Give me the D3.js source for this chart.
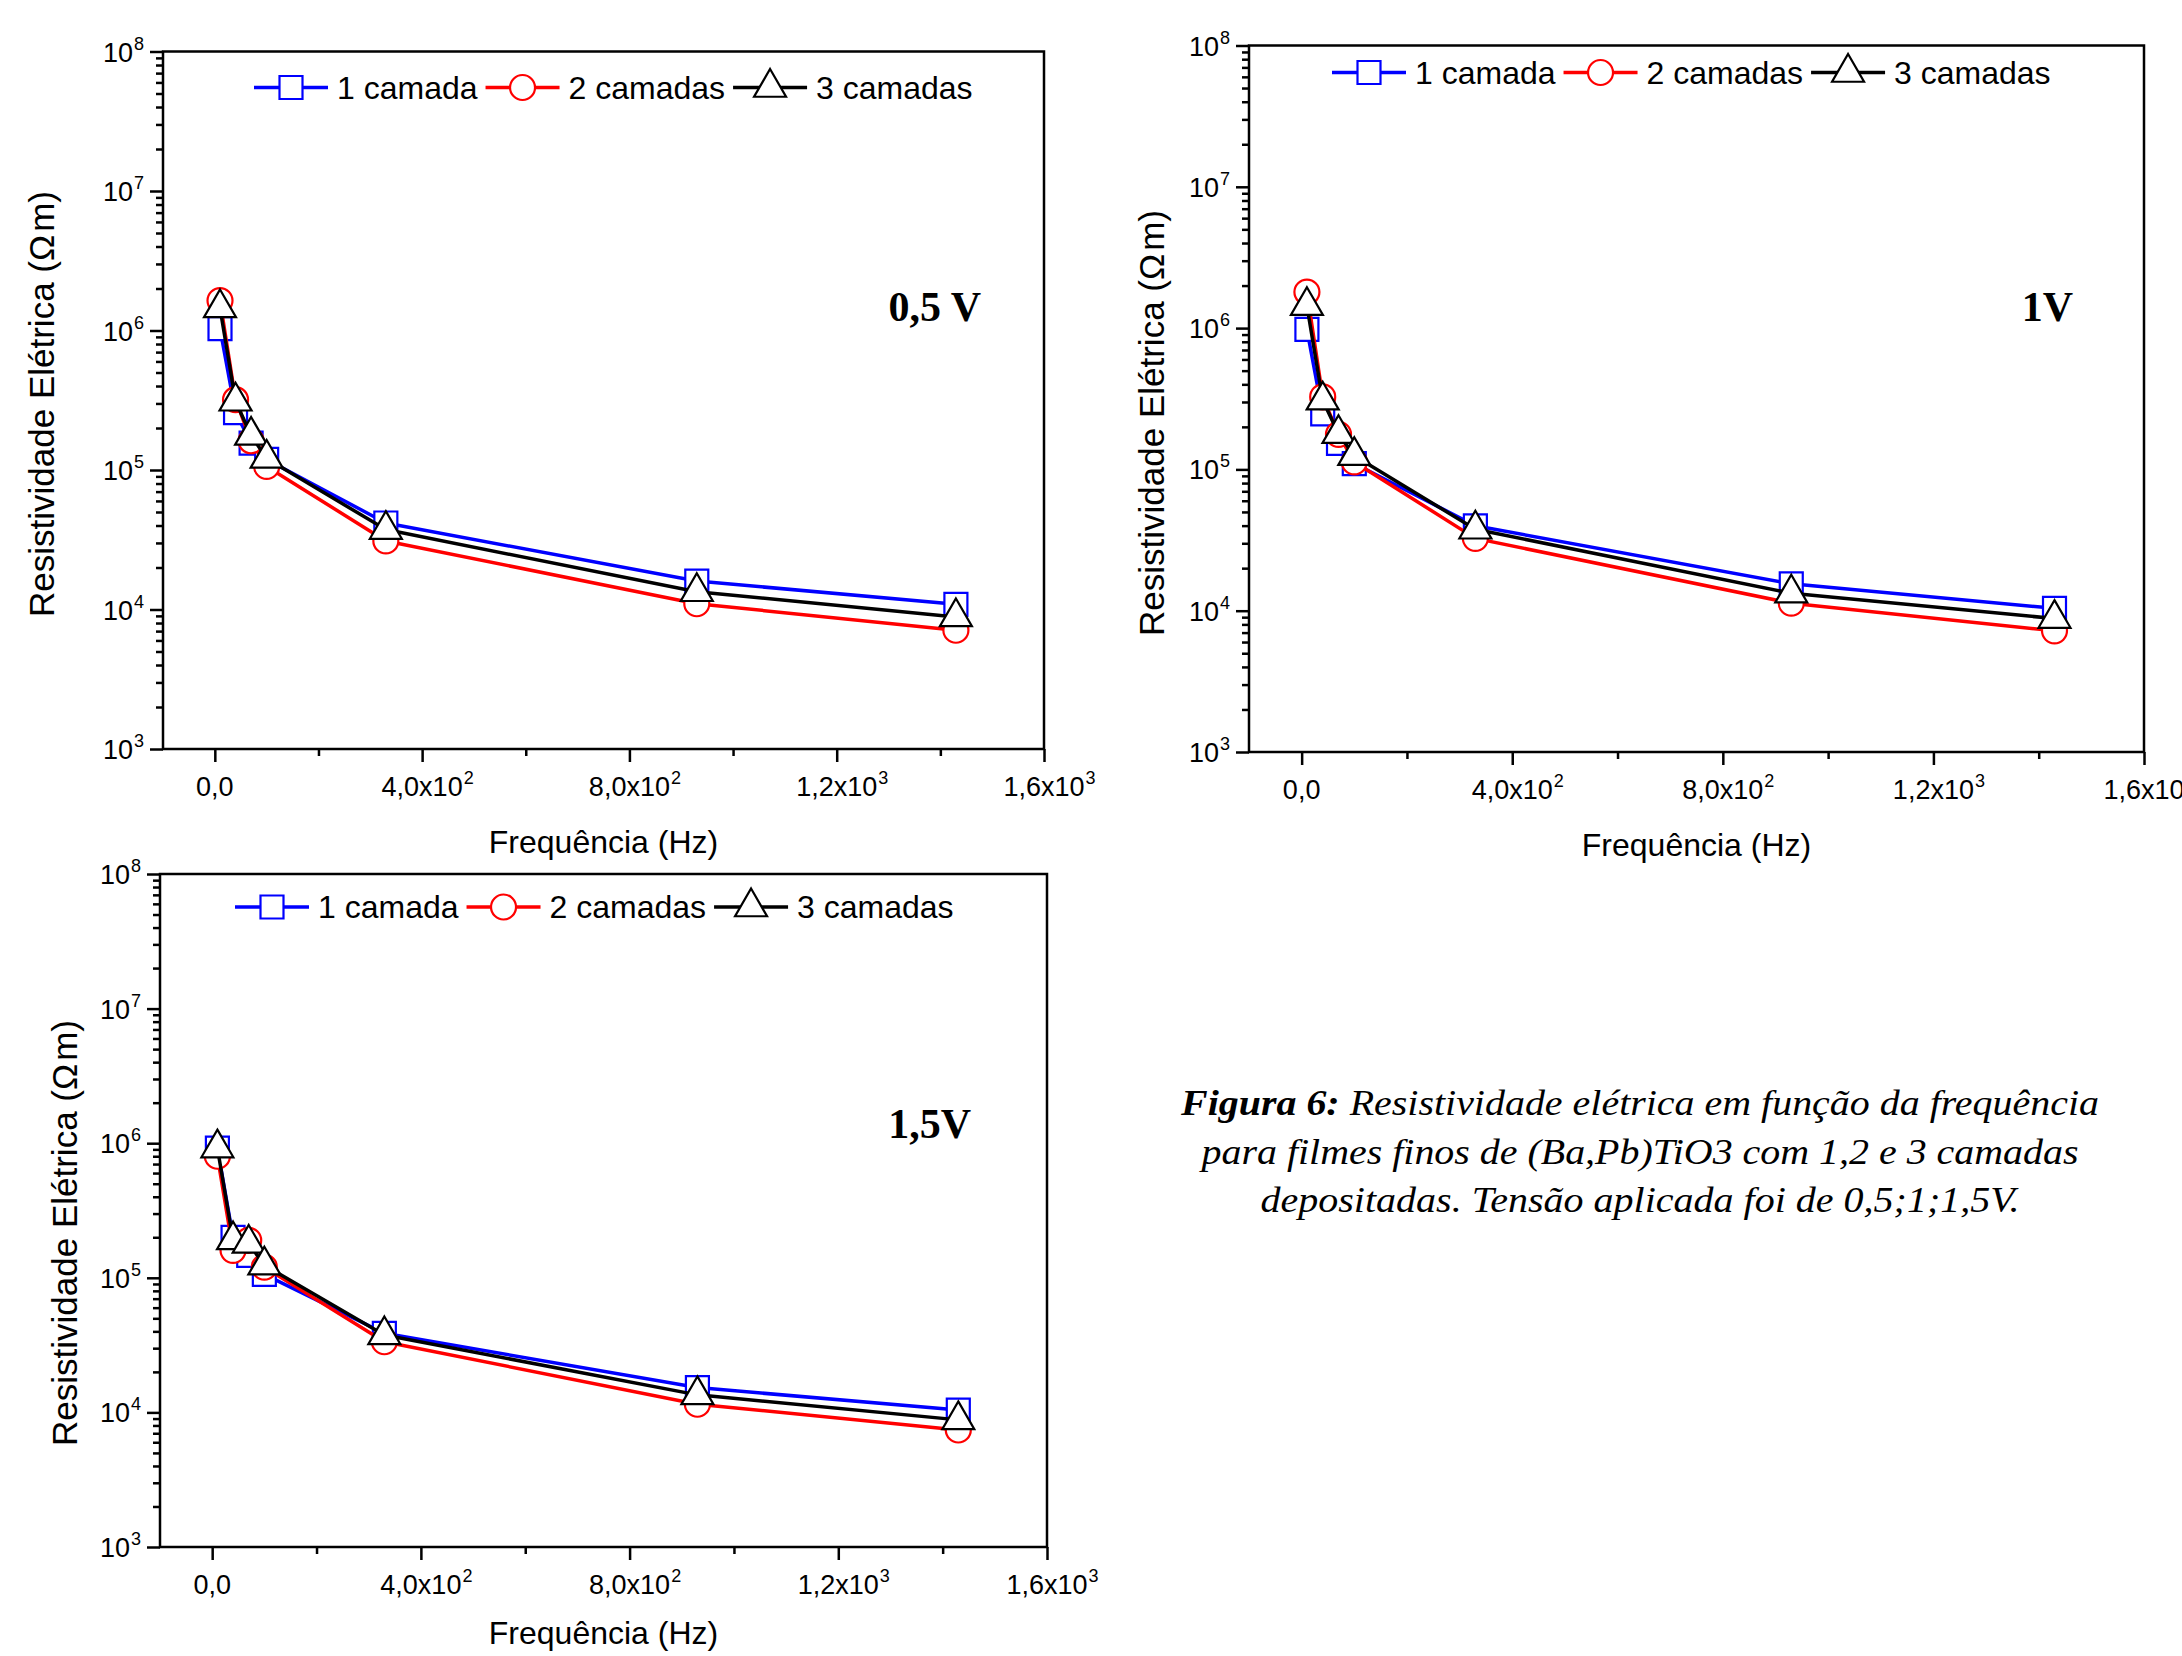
<!DOCTYPE html>
<html>
<head>
<meta charset="utf-8">
<script src="https://cdn.jsdelivr.net/npm/d3@7"></script>
<style>
body { margin: 0; background: #fff; }
svg text { font-family: "Liberation Sans", Arial, sans-serif; fill: #000; }
</style>
</head>
<body>
<div id="figura"></div>
<script>
// frequencias medidas (Hz)
var freq = [10, 40, 70, 100, 330, 930, 1430];

// resistividade eletrica (Ohm m), tensao 0,5 V
var res05_c1 = [1.03e6, 2.58e5, 1.56e5, 1.19e5, 4.17e4, 1.60e4, 1.09e4];
var res05_c2 = [1.64e6, 3.19e5, 1.62e5, 1.06e5, 3.10e4, 1.10e4, 7.1e3];
var res05_c3 = [1.45e6, 3.11e5, 1.77e5, 1.21e5, 3.74e4, 1.34e4, 8.85e3];

// tensao 1 V
var res1_c1 = [9.8e5, 2.47e5, 1.53e5, 1.10e5, 3.99e4, 1.55e4, 1.04e4];
var res1_c2 = [1.80e6, 3.26e5, 1.77e5, 1.13e5, 3.25e4, 1.13e4, 7.2e3];
var res1_c3 = [1.44e6, 3.09e5, 1.79e5, 1.25e5, 3.77e4, 1.33e4, 8.8e3];

// tensao 1,5 V
var res15_c1 = [9.2e5, 2.00e5, 1.47e5, 1.06e5, 3.87e4, 1.53e4, 1.04e4];
var res15_c2 = [8.0e5, 1.60e5, 1.90e5, 1.20e5, 3.35e4, 1.15e4, 7.4e3];
var res15_c3 = [9.2e5, 1.91e5, 1.80e5, 1.24e5, 3.76e4, 1.35e4, 8.8e3];

var seriesNames = ["1 camada", "2 camadas", "3 camadas"];
var panelNames = ["0,5 V", "1V", "1,5V"];

var xTickValues = [0, 400, 800, 1200, 1600];
var xMinorValues = [200, 600, 1000, 1400];
var xTickMant = ["0,0", "4,0x10", "8,0x10", "1,2x10", "1,6x10"];
var xTickExp = ["", "2", "2", "3", "3"];
var yTickValues = [1e3, 1e4, 1e5, 1e6, 1e7, 1e8];
var yTickExp = ["3", "4", "5", "6", "7", "8"];

var xTitle = "Frequência (Hz)";
var yTitle = "Resistividade Elétrica (Ω";

var captionBold = "Figura 6:";
var captionLines = [
    " Resistividade elétrica em função da frequência",
    "para filmes finos de (Ba,Pb)TiO3 com 1,2 e 3 camadas",
    "depositadas. Tensão aplicada foi de 0,5;1;1,5V."
];

// =====================
var W = 2182, H = 1656;

var colors = ["#0000ff", "#ff0000", "#000000"];
var symbols = [d3.symbolSquare, d3.symbolCircle, d3.symbolTriangle];
var symSize = [529, 491, 443];

var svg = d3.select("#figura")
    .append("svg")
    .attr("width", W)
    .attr("height", H);

svg.append("rect").attr("width", W).attr("height", H).attr("fill", "#fff");

var panels = [
    {name: panelNames[0], data: [res05_c1, res05_c2, res05_c3],
     left: 163, right: 1044, top: 51.5, bottom: 749,
     legX: 91, legY: 36, yTitleX: 42, yTitleY: 404, xTitleDy: 104, labX: 981, labY: 321},
    {name: panelNames[1], data: [res1_c1, res1_c2, res1_c3],
     left: 1249, right: 2144, top: 45.5, bottom: 752,
     legX: 83, legY: 27, yTitleX: 1152, yTitleY: 423, xTitleDy: 104, labX: 2073, labY: 321},
    {name: panelNames[2], data: [res15_c1, res15_c2, res15_c3],
     left: 160, right: 1047, top: 874, bottom: 1547,
     legX: 75, legY: 33, yTitleX: 65, yTitleY: 1233, xTitleDy: 97, labX: 971, labY: 1138}
];

function drawPanel(p) {
    var g = svg.append("g");

    var x = d3.scaleLinear()
        .domain([-100, 1600])
        .range([p.left, p.right]);

    var y = d3.scaleLog()
        .domain([1e3, 1e8])
        .range([p.bottom, p.top]);

    // eixos (ticks para fora)
    var xMaj = g.append("g")
        .attr("transform", "translate(0," + p.bottom + ")")
        .call(d3.axisBottom(x).tickValues(xTickValues).tickSize(13).tickFormat(""));
    var xMin = g.append("g")
        .attr("transform", "translate(0," + p.bottom + ")")
        .call(d3.axisBottom(x).tickValues(xMinorValues).tickSize(7).tickFormat(""));

    var yMinorValues = y.ticks().filter(function (v) {
        return yTickValues.indexOf(v) < 0;
    });
    var yMaj = g.append("g")
        .attr("transform", "translate(" + p.left + ",0)")
        .call(d3.axisLeft(y).tickValues(yTickValues).tickSize(13).tickFormat(""));
    var yMin = g.append("g")
        .attr("transform", "translate(" + p.left + ",0)")
        .call(d3.axisLeft(y).tickValues(yMinorValues).tickSize(7).tickFormat(""));

    [xMaj, xMin, yMaj, yMin].forEach(function (a) {
        a.select(".domain").remove();
        a.selectAll("line").attr("stroke", "#000").attr("stroke-width", 2.5);
    });

    g.append("rect")
        .attr("x", p.left)
        .attr("y", p.top)
        .attr("width", p.right - p.left)
        .attr("height", p.bottom - p.top)
        .attr("fill", "none")
        .attr("stroke", "#000")
        .attr("stroke-width", 2.5);

    // rotulos do eixo x
    xTickValues.forEach(function (v, i) {
        var t = g.append("text")
            .attr("y", p.bottom + 47)
            .style("font-size", "27px");
        var m = t.append("tspan").text(xTickMant[i]);
        var w = m.node().getComputedTextLength();
        t.attr("x", x(v) - w / 2);
        if (xTickExp[i]) {
            t.append("tspan")
                .attr("dy", -12)
                .attr("dx", 1)
                .style("font-size", "18px")
                .text(xTickExp[i]);
        }
    });

    // rotulos do eixo y
    yTickValues.forEach(function (v, i) {
        var t = g.append("text")
            .attr("x", p.left - 19)
            .attr("y", y(v) + 10)
            .attr("text-anchor", "end")
            .style("font-size", "27px");
        t.append("tspan").text("10");
        t.append("tspan")
            .attr("dy", -12)
            .attr("dx", 1)
            .style("font-size", "18px")
            .text(yTickExp[i]);
    });

    // titulos
    g.append("text")
        .attr("x", (p.left + p.right) / 2)
        .attr("y", p.bottom + p.xTitleDy)
        .attr("text-anchor", "middle")
        .style("font-size", "32px")
        .text(xTitle);

    var yt = g.append("g")
        .attr("transform", "translate(" + p.yTitleX + "," + p.yTitleY + ")")
        .append("text")
        .attr("text-anchor", "middle")
        .attr("transform", "rotate(-90)")
        .attr("dy", "0.35em")
        .style("font-size", "35px");
    yt.append("tspan").text(yTitle);
    yt.append("tspan").attr("dx", 3).text("m)");

    // series: linha e depois simbolos
    p.data.forEach(function (vals, s) {
        g.append("path")
            .datum(vals)
            .attr("fill", "none")
            .attr("stroke", colors[s])
            .attr("stroke-width", 3.5)
            .attr("stroke-linejoin", "round")
            .attr("d", d3.line()
                .x(function (d, i) { return x(freq[i]); })
                .y(function (d) { return y(d); }));

        g.selectAll("path.sym" + s)
            .data(vals)
            .enter()
            .append("path")
            .attr("class", "sym" + s)
            .attr("transform", function (d, i) {
                return "translate(" + x(freq[i]) + "," + y(d) + ")";
            })
            .attr("d", d3.symbol().type(symbols[s]).size(symSize[s]))
            .attr("fill", "#fff")
            .attr("stroke", colors[s])
            .attr("stroke-width", 2.2);
    });

    // legenda
    var lx = p.left + p.legX;
    var ly = p.top + p.legY;
    seriesNames.forEach(function (nm, s) {
        var lg = g.append("g").attr("transform", "translate(" + lx + "," + ly + ")");
        lg.append("line")
            .attr("x1", 0).attr("x2", 74)
            .attr("y1", 0).attr("y2", 0)
            .attr("stroke", colors[s])
            .attr("stroke-width", 3.5);
        lg.append("path")
            .attr("transform", "translate(37,0)")
            .attr("d", d3.symbol().type(symbols[s]).size(symSize[s]))
            .attr("fill", "#fff")
            .attr("stroke", colors[s])
            .attr("stroke-width", 2.2);
        var tt = lg.append("text")
            .attr("x", 83)
            .attr("y", 11)
            .style("font-size", "32px")
            .text(nm);
        lx += 83 + tt.node().getComputedTextLength() + 8;
    });

    // tensao aplicada
    g.append("text")
        .attr("x", p.labX)
        .attr("y", p.labY)
        .attr("text-anchor", "end")
        .style("font-family", "'Liberation Serif', 'Times New Roman', serif")
        .style("font-weight", "bold")
        .style("font-size", "42px")
        .text(p.name);
}

panels.forEach(drawPanel);

// legenda da figura
var capY = [1115, 1164, 1212];
var capW = [918, 877, 759];
captionLines.forEach(function (ln, i) {
    var t = svg.append("text")
        .attr("x", 1640)
        .attr("y", capY[i])
        .attr("text-anchor", "middle")
        .attr("textLength", capW[i])
        .attr("lengthAdjust", "spacingAndGlyphs")
        .style("font-family", "'Liberation Serif', 'Times New Roman', serif")
        .style("font-style", "italic")
        .style("font-size", "35px");
    if (i === 0) {
        t.append("tspan").style("font-weight", "bold").text(captionBold);
    }
    t.append("tspan").text(ln);
});
</script>
</body>
</html>
